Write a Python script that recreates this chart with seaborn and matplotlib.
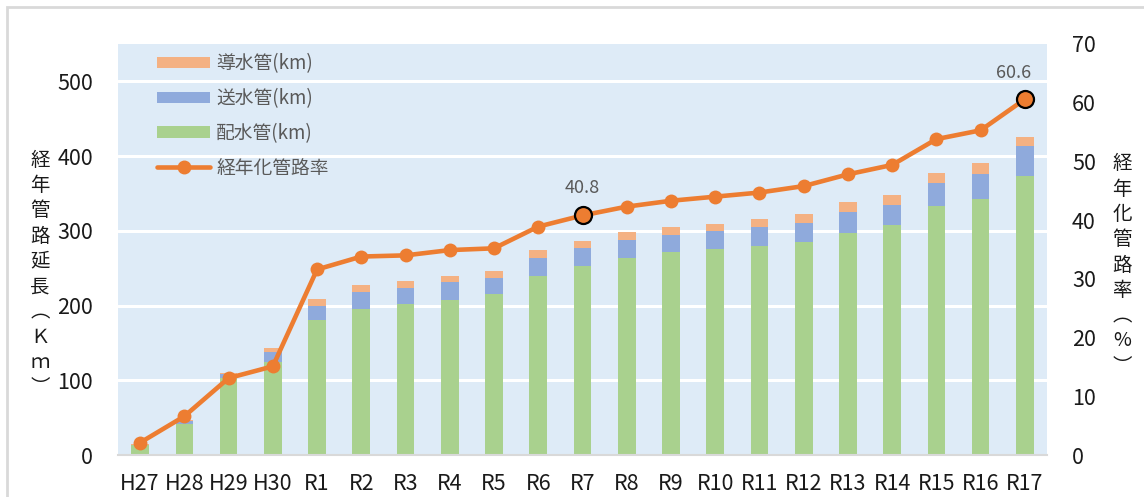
import numpy as np
import pandas as pd
import matplotlib
matplotlib.use('Agg')
import matplotlib.pyplot as plt
import seaborn as sns
from matplotlib.patches import Patch, Rectangle
from matplotlib.lines import Line2D
from matplotlib import font_manager

years = ['H27', 'H28', 'H29', 'H30', 'R1', 'R2', 'R3', 'R4', 'R5', 'R6', 'R7',
         'R8', 'R9', 'R10', 'R11', 'R12', 'R13', 'R14', 'R15', 'R16', 'R17']
haisui = [13, 41, 103, 124, 180, 196, 202, 208, 215, 240, 253,
          264, 272, 276, 280, 285, 297, 308, 333, 343, 373]
sousui = [1, 4, 5, 14, 20, 22, 22, 23, 22, 24, 24,
          24, 23, 24, 25, 26, 28, 27, 31, 33, 40]
dousui = [1, 2, 2, 5, 9, 9, 9, 9, 9, 10, 10,
          10, 10, 9, 11, 12, 13, 13, 14, 15, 13]
rate = [2.1, 6.6, 13.1, 15.1, 31.6, 33.8, 34.0, 34.9, 35.2, 38.9, 40.8,
        42.3, 43.3, 44.0, 44.7, 45.8, 47.8, 49.4, 53.8, 55.3, 60.6]
highlight = ['R7', 'R17']

C_HAI = '#A9D18E'
C_SOU = '#8FAADC'
C_DOU = '#F4B183'
C_LINE = '#ED7D31'

sns.set_theme(style='white')
plt.rcParams['font.family'] = ['Noto Sans CJK JP', 'DejaVu Sans']

names = {f.name for f in font_manager.fontManager.ttflist}
tick_family = 'Liberation Sans Narrow' if 'Liberation Sans Narrow' in names else 'Noto Sans CJK JP'

W, H = 1144, 497
fig = plt.figure(figsize=(W / 100, H / 100), dpi=100)
fig.patch.set_facecolor('white')
fig.patches.append(Rectangle((7 / W, -0.1), 1.2, 1.1 - 7 / H, transform=fig.transFigure,
                             fill=False, edgecolor='#D9D9D9', linewidth=2, zorder=0))

L, R, T, B = 118, 1047, 44, 455
ax = fig.add_axes([L / W, 1 - B / H, (R - L) / W, (B - T) / H])
ax.set_facecolor('#DEEBF7')

df = pd.DataFrame({'year': years, 'haisui': haisui, 'sousui': sousui, 'dousui': dousui})
df['s2'] = df['haisui'] + df['sousui']
df['s3'] = df['s2'] + df['dousui']

for col, c in [('s3', C_DOU), ('s2', C_SOU), ('haisui', C_HAI)]:
    sns.barplot(data=df, x='year', y=col, color=c, width=0.4, saturation=1,
                linewidth=0, ax=ax, zorder=2)

ax.set_ylim(0, 550)
ax.set_yticks(np.arange(0, 501, 100))
ax.yaxis.grid(True, color='white', linewidth=2.2)
ax.xaxis.grid(False)
ax.set_axisbelow(True)
ax.set_xlabel('')
ax.set_ylabel('')
for s in ['top', 'right', 'left']:
    ax.spines[s].set_visible(False)
ax.spines['bottom'].set_color('#D9D9D9')
ax.spines['bottom'].set_linewidth(1.5)
ax.tick_params(axis='both', length=0, labelsize=15.5, labelcolor='#1a1a1a')
ax.tick_params(axis='y', pad=18)
ax.tick_params(axis='x', pad=13)

ax2 = ax.twinx()
xpos = np.arange(len(years))
sns.lineplot(x=xpos, y=rate, ax=ax2, color=C_LINE, linewidth=3.3, marker='o',
             markersize=10, markeredgewidth=0, zorder=3)
hl_idx = [years.index(h) for h in highlight]
hl_val = [rate[i] for i in hl_idx]
sns.scatterplot(x=hl_idx, y=hl_val, ax=ax2, color=C_LINE, s=150, edgecolor='black',
                linewidth=1.6, zorder=4)
offsets = {'R7': (0, 27), 'R17': (-11, 26)}
for i, v in zip(hl_idx, hl_val):
    ax2.annotate(f'{v:.1f}', (i, v), xytext=offsets[years[i]], textcoords='offset pixels',
                 ha='center', va='center', fontsize=13, color='#595959')
ax2.set_ylim(0, 70)
ax2.set_yticks(np.arange(0, 71, 10))
ax2.set_ylabel('')
ax2.grid(False)
for s in ax2.spines.values():
    s.set_visible(False)
ax2.tick_params(axis='y', length=0, labelsize=15.5, labelcolor='#1a1a1a', pad=18)
ax.set_xlim(-0.5, len(years) - 0.5)

for a in (ax, ax2):
    for lab in a.get_xticklabels() + a.get_yticklabels():
        lab.set_family(tick_family)

handles = [Patch(facecolor=C_DOU, edgecolor='none'),
           Patch(facecolor=C_SOU, edgecolor='none'),
           Patch(facecolor=C_HAI, edgecolor='none'),
           Line2D([0], [0], color=C_LINE, linewidth=3.3, marker='o', markersize=9)]
labels = ['導水管(km)', '送水管(km)', '配水管(km)', '経年化管路率']
leg = ax2.legend(handles, labels, loc='upper left', bbox_to_anchor=(157 / W, 1 - 53 / H),
                 bbox_transform=fig.transFigure, frameon=False, fontsize=13.5,
                 handlelength=2.85, handleheight=0.55, handletextpad=0.3,
                 labelspacing=0.74, borderpad=0, borderaxespad=0, labelcolor='#595959')

fig.text(40 / W, 1 - 274 / H, '\n'.join('経年管路延長︵Ｋｍ︶'), ha='center', va='center',
         fontsize=14, linespacing=1.27, color='#1a1a1a')
fig.text(1122 / W, 1 - 265 / H, '\n'.join('経年化管路率︵%︶'), ha='center', va='center',
         fontsize=14, linespacing=1.27, color='#1a1a1a')

fig.savefig('out.png', dpi=100)
